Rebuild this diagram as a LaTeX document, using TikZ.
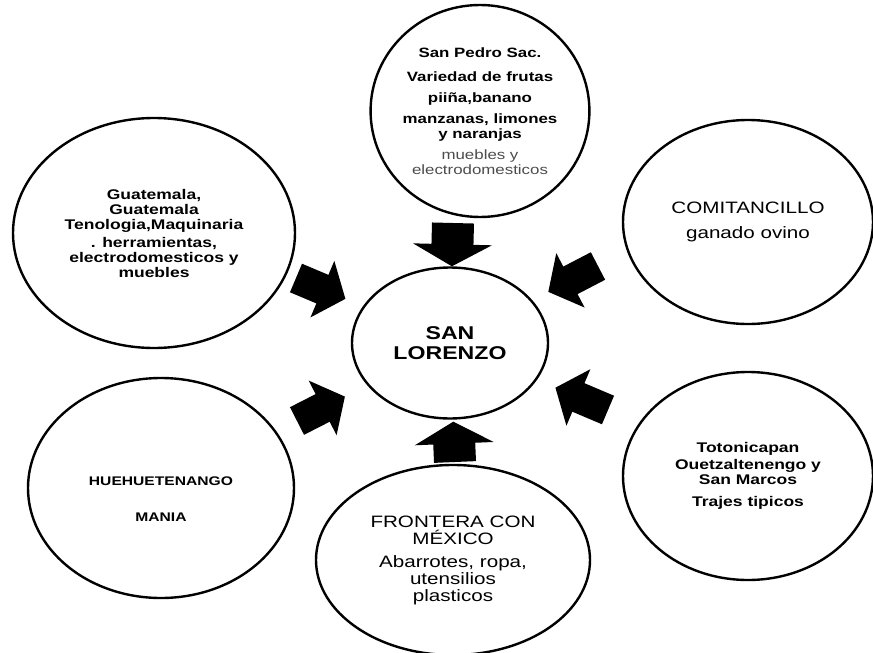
\documentclass[tikz,border=0pt]{standalone}
\usepackage{fontspec}
\setmainfont{Liberation Sans}[FakeStretch=1.25]
\usetikzlibrary{arrows.meta, shapes.geometric}

\begin{document}
\begin{tikzpicture}[
    x = 1pt,
    y = -1pt,
    align = center,
    place/.style = {draw, ellipse, line width = 2.4pt, inner sep = 0pt},
    light/.style = {font = \fontsize{13.5}{15}\selectfont},
    flow/.style = {line width = 31pt, -{Triangle[length = 25pt, width = 60pt]}},
    bigflow/.style = {line width = 42pt, -{Triangle[length = 22pt, width = 78pt]}}
  ]
    \useasboundingbox (0, 0) rectangle (873, 653);
    \node[place, minimum width = 196pt, minimum height = 151pt, font = \fontsize{18.5}{20}\selectfont\bfseries] (san_lorenzo) at (450, 343) {SAN\\LORENZO};
    \node[place, minimum width = 210pt, minimum height = 212pt, font = \fontsize{13.5}{15}\selectfont\bfseries] (san_pedro) at (480, 111) {San Pedro Sac.\\[9pt]Variedad de frutas\\[6pt]pii\~na,banano\\[6pt]manzanas, limones\\y naranjas\\[6pt]{\mdseries\color{black!70}muebles y}\\{\mdseries\color{black!70}electrodomesticos}};
    \node[place, minimum width = 282pt, minimum height = 230pt, font = \fontsize{14}{15}\selectfont\bfseries] (guatemala) at (154, 233) {Guatemala,\\Guatemala\\Tenologia,Maquinaria\\[3pt]. herramientas,\\electrodomesticos y\\muebles};
    \node[place, minimum width = 250pt, minimum height = 204pt, font = \fontsize{16.5}{17}\selectfont] (comitancillo) at (748, 222) {COMITANCILLO\\[8pt]ganado ovino};
    \node[place, minimum width = 266pt, minimum height = 220pt, font = \fontsize{12.5}{15}\selectfont\bfseries] (huehuetenango) at (161, 488) {\rule{0pt}{31pt}HUEHUETENANGO\\[21pt]MANIA};
    \node[place, minimum width = 274pt, minimum height = 190pt, font = \fontsize{16.5}{17}\selectfont] (frontera) at (453, 560) {FRONTERA CON\\M\'EXICO\\[6pt]Abarrotes, ropa,\\utensilios\\plasticos};
    \node[place, minimum width = 250pt, minimum height = 208pt, font = \fontsize{14}{15}\selectfont\bfseries] (totonicapan) at (748, 476) {Totonicapan\\[2pt]Ouetzaltenengo y\\San Marcos\\[7pt]Trajes tipicos};
    \coordinate (san_pedro_tail) at (453, 223);
    \coordinate (guatemala_tail) at (296, 278);
    \coordinate (comitancillo_tail) at (598, 266);
    \coordinate (huehuetenango_tail) at (297, 421);
    \coordinate (totonicapan_tail) at (608, 410);
    \coordinate (frontera_tail) at (455, 462);
    \draw[bigflow] (san_pedro_tail) -- (san_lorenzo);
    \draw[flow, shorten > = 19pt] (guatemala_tail) -- (san_lorenzo);
    \draw[flow, shorten > = 18pt] (comitancillo_tail) -- (san_lorenzo);
    \draw[flow, shorten > = 25pt] (huehuetenango_tail) -- (san_lorenzo);
    \draw[flow, shorten > = 20pt] (totonicapan_tail) -- (san_lorenzo);
    \draw[bigflow, shorten > = 2pt] (frontera_tail) -- (san_lorenzo);
  \end{tikzpicture}
\end{document}
